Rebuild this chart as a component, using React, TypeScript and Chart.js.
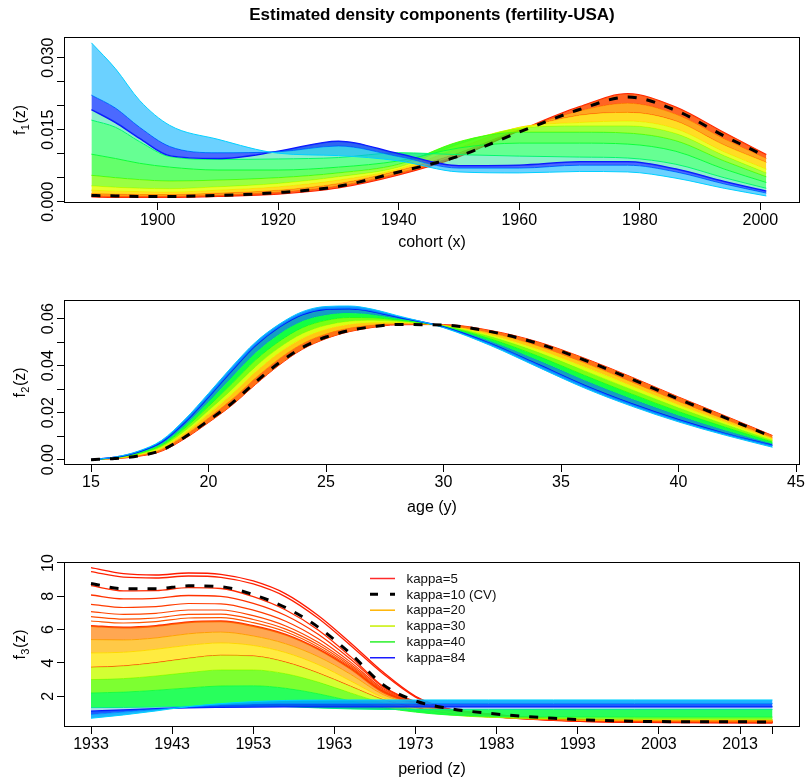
import React, { useEffect, useRef } from "react";
import { Chart, registerables } from "chart.js";

Chart.register(...registerables);

const FONT = '"Liberation Sans", Arial, Helvetica, sans-serif';

// ---------------- Panel 1 : cohort (x) ----------------
const P1_COHORT = [1889, 1893, 1897, 1902, 1910, 1920, 1930, 1940, 1950, 1960, 1970, 1978, 1986, 1994, 2001];
const P1_RED = [0.0010, 0.0009, 0.0009, 0.0009, 0.0011, 0.0016, 0.0029, 0.0056, 0.0094, 0.0148, 0.0198, 0.0225, 0.0197, 0.0144, 0.0098];
const P1_CV = [0.0013, 0.0012, 0.0011, 0.0011, 0.0013, 0.0019, 0.0032, 0.0062, 0.0095, 0.0145, 0.0192, 0.0218, 0.0190, 0.0137, 0.0094];
const P1_REDORANGE = [0.0013, 0.0012, 0.0012, 0.0012, 0.0014, 0.0020, 0.0033, 0.0060, 0.0098, 0.0149, 0.0189, 0.0205, 0.0182, 0.0131, 0.0090];
const P1_ORANGE = [0.0017, 0.0016, 0.0015, 0.0015, 0.0018, 0.0024, 0.0038, 0.0065, 0.0102, 0.0150, 0.0180, 0.0186, 0.0168, 0.0118, 0.0082];
const P1_YELLOW = [0.0024, 0.0022, 0.0021, 0.0020, 0.0024, 0.0031, 0.0045, 0.0068, 0.0112, 0.0155, 0.0165, 0.0168, 0.0152, 0.0104, 0.0068];
const P1_LIME = [0.0033, 0.0030, 0.0028, 0.0027, 0.0031, 0.0038, 0.0052, 0.0072, 0.0120, 0.0153, 0.0158, 0.0158, 0.0142, 0.0096, 0.0060];
const P1_GREEN1 = [0.0055, 0.0050, 0.0046, 0.0043, 0.0045, 0.0050, 0.0060, 0.0078, 0.0125, 0.0145, 0.0145, 0.0143, 0.0127, 0.0085, 0.0052];
const P1_GREEN2 = [0.0099, 0.0090, 0.0080, 0.0072, 0.0066, 0.0066, 0.0072, 0.0085, 0.0112, 0.0122, 0.0122, 0.0120, 0.0105, 0.0068, 0.0040];
const P1_GREEN3 = [0.0170, 0.0155, 0.0125, 0.0094, 0.0088, 0.0089, 0.0092, 0.0102, 0.0098, 0.0095, 0.0093, 0.0091, 0.0078, 0.0050, 0.0028];
const P1_BLUE = [0.0192, 0.0165, 0.0132, 0.0096, 0.0090, 0.0105, 0.0126, 0.0100, 0.0075, 0.0076, 0.0083, 0.0083, 0.0068, 0.0042, 0.0022];
const P1_AZURE = [0.0222, 0.0195, 0.0155, 0.0115, 0.0102, 0.0104, 0.0116, 0.0094, 0.0070, 0.0070, 0.0076, 0.0076, 0.0062, 0.0037, 0.0018];
const P1_CYAN = [0.0331, 0.0277, 0.0211, 0.0159, 0.0130, 0.0101, 0.0096, 0.0085, 0.0062, 0.0060, 0.0063, 0.0062, 0.0049, 0.0028, 0.0012];
const P1_X_TICKS = [1900, 1920, 1940, 1960, 1980, 2000];
const P1_Y_TICKS = [0, 0.005, 0.01, 0.015, 0.02, 0.025, 0.03];
const P1_Y_LABEL_VALUES = [0, 0.015, 0.03];
const P1_Y_LABELS = ["0.000", "0.015", "0.030"];

// ---------------- Panel 2 : age (y) ----------------
const P2_AGE = [15, 16, 17, 18, 19, 20, 21, 22, 23, 24, 25, 26, 27, 28, 30, 32, 34, 36, 38, 40, 42, 44];
const P2_RED = [0, 0.0004, 0.0014, 0.0036, 0.0090, 0.0158, 0.0232, 0.0320, 0.0402, 0.0470, 0.0515, 0.0545, 0.0563, 0.0574, 0.0575, 0.0550, 0.0502, 0.0432, 0.0352, 0.0267, 0.0186, 0.0103];
const P2_CV = [0, 0.0005, 0.0016, 0.0040, 0.0097, 0.0167, 0.0241, 0.0330, 0.0412, 0.0478, 0.0522, 0.0550, 0.0566, 0.0575, 0.0573, 0.0545, 0.0495, 0.0424, 0.0343, 0.0258, 0.0178, 0.0097];
const P2_ORANGE = [0, 0.0006, 0.0018, 0.0044, 0.0105, 0.0179, 0.0258, 0.0349, 0.0430, 0.0495, 0.0536, 0.0561, 0.0574, 0.0579, 0.0572, 0.0539, 0.0484, 0.0411, 0.0330, 0.0247, 0.0170, 0.0093];
const P2_YELLOW = [0, 0.0006, 0.0021, 0.0050, 0.0115, 0.0195, 0.0280, 0.0374, 0.0455, 0.0517, 0.0555, 0.0576, 0.0584, 0.0584, 0.0571, 0.0531, 0.0470, 0.0394, 0.0314, 0.0233, 0.0159, 0.0087];
const P2_LIME = [0, 0.0007, 0.0023, 0.0055, 0.0123, 0.0209, 0.0299, 0.0396, 0.0476, 0.0537, 0.0572, 0.0589, 0.0593, 0.0589, 0.0570, 0.0524, 0.0458, 0.0379, 0.0299, 0.0221, 0.0150, 0.0082];
const P2_GREEN1 = [0, 0.0008, 0.0026, 0.0061, 0.0135, 0.0227, 0.0324, 0.0424, 0.0503, 0.0562, 0.0593, 0.0605, 0.0604, 0.0595, 0.0568, 0.0514, 0.0442, 0.0359, 0.0280, 0.0205, 0.0138, 0.0075];
const P2_GREEN2 = [0, 0.0009, 0.0030, 0.0068, 0.0147, 0.0247, 0.0352, 0.0455, 0.0534, 0.0590, 0.0616, 0.0624, 0.0617, 0.0601, 0.0567, 0.0504, 0.0424, 0.0338, 0.0259, 0.0188, 0.0124, 0.0068];
const P2_BLUE = [0, 0.0010, 0.0033, 0.0075, 0.0160, 0.0267, 0.0380, 0.0486, 0.0564, 0.0618, 0.0640, 0.0642, 0.0630, 0.0608, 0.0565, 0.0494, 0.0406, 0.0316, 0.0238, 0.0170, 0.0111, 0.0061];
const P2_CYAN = [0, 0.0011, 0.0036, 0.0082, 0.0172, 0.0282, 0.0396, 0.0500, 0.0576, 0.0630, 0.0652, 0.0654, 0.0640, 0.0614, 0.0562, 0.0486, 0.0395, 0.0305, 0.0228, 0.0161, 0.0104, 0.0053];
const P2_X_TICKS = [15, 20, 25, 30, 35, 40, 45];
const P2_Y_TICKS = [0, 0.01, 0.02, 0.03, 0.04, 0.05, 0.06];
const P2_Y_LABEL_VALUES = [0, 0.02, 0.04, 0.06];
const P2_Y_LABELS = ["0.00", "0.02", "0.04", "0.06"];

// ---------------- Panel 3 : period (z) ----------------
const P3_PERIOD = [1933, 1937, 1941, 1945, 1949, 1953, 1957, 1961, 1965, 1969, 1973, 1977, 1982, 1990, 2000, 2017];
const P3_RED1 = [9.72, 9.36, 9.28, 9.40, 9.32, 8.92, 8.15, 6.85, 5.20, 3.45, 2.00, 1.25, 0.82, 0.55, 0.43, 0.40];
const P3_RED2 = [9.48, 9.15, 9.10, 9.22, 9.14, 8.74, 7.97, 6.68, 5.05, 3.35, 1.95, 1.23, 0.82, 0.56, 0.44, 0.41];
const P3_CV = [8.77, 8.45, 8.45, 8.63, 8.58, 8.10, 7.32, 6.15, 4.55, 2.70, 1.72, 1.28, 0.98, 0.68, 0.50, 0.46];
const P3_RED3 = [8.64, 8.33, 8.34, 8.52, 8.47, 7.98, 7.18, 5.98, 4.38, 2.60, 1.68, 1.25, 0.95, 0.66, 0.49, 0.45];
const P3_RED4 = [8.08, 7.85, 7.88, 8.05, 8.00, 7.58, 6.85, 5.72, 4.22, 2.55, 1.65, 1.22, 0.93, 0.65, 0.49, 0.45];
const P3_RED5 = [7.52, 7.33, 7.38, 7.57, 7.55, 7.17, 6.50, 5.45, 4.05, 2.45, 1.62, 1.20, 0.91, 0.64, 0.50, 0.46];
const P3_RED6 = [7.08, 6.92, 6.98, 7.18, 7.18, 6.84, 6.22, 5.24, 3.92, 2.38, 1.60, 1.19, 0.90, 0.63, 0.50, 0.47];
const P3_RED7 = [6.78, 6.63, 6.70, 6.92, 6.93, 6.61, 6.03, 5.09, 3.82, 2.33, 1.59, 1.18, 0.89, 0.63, 0.51, 0.48];
const P3_RED8 = [6.52, 6.40, 6.48, 6.70, 6.72, 6.42, 5.87, 4.96, 3.74, 2.29, 1.58, 1.18, 0.89, 0.63, 0.51, 0.48];
const P3_ORANGE1 = [6.22, 6.13, 6.22, 6.45, 6.50, 6.22, 5.70, 4.83, 3.65, 2.25, 1.57, 1.17, 0.88, 0.63, 0.52, 0.49];
const P3_ORANGE2 = [5.40, 5.38, 5.50, 5.75, 5.85, 5.62, 5.15, 4.38, 3.32, 2.10, 1.50, 1.10, 0.82, 0.60, 0.53, 0.51];
const P3_YELLOW = [4.60, 4.64, 4.82, 5.06, 5.20, 5.05, 4.62, 3.90, 2.92, 1.92, 1.40, 1.02, 0.78, 0.61, 0.56, 0.55];
const P3_LIME = [3.74, 3.82, 4.02, 4.28, 4.46, 4.42, 4.05, 3.40, 2.60, 1.80, 1.32, 0.97, 0.76, 0.63, 0.59, 0.58];
const P3_GREEN1 = [3.00, 3.06, 3.22, 3.42, 3.58, 3.58, 3.35, 2.85, 2.20, 1.60, 1.20, 0.90, 0.74, 0.66, 0.63, 0.62];
const P3_GREEN2 = [2.20, 2.25, 2.36, 2.50, 2.62, 2.63, 2.48, 2.15, 1.72, 1.32, 1.05, 0.88, 0.80, 0.76, 0.75, 0.75];
const P3_GREEN3 = [1.32, 1.33, 1.36, 1.40, 1.43, 1.43, 1.38, 1.30, 1.24, 1.21, 1.20, 1.20, 1.20, 1.21, 1.21, 1.21];
const P3_BLUE = [1.10, 1.18, 1.25, 1.31, 1.34, 1.36, 1.37, 1.37, 1.37, 1.37, 1.37, 1.37, 1.37, 1.37, 1.37, 1.37];
const P3_AZURE = [0.90, 1.05, 1.20, 1.36, 1.48, 1.54, 1.57, 1.57, 1.57, 1.57, 1.57, 1.57, 1.57, 1.57, 1.57, 1.57];
const P3_CYAN = [0.68, 0.88, 1.12, 1.38, 1.56, 1.68, 1.75, 1.77, 1.78, 1.78, 1.78, 1.78, 1.78, 1.78, 1.78, 1.78];
const P3_X_TICKS = [1933, 1943, 1953, 1963, 1973, 1983, 1993, 2003, 2013, 2017];
const P3_X_LABELED = [1933, 1943, 1953, 1963, 1973, 1983, 1993, 2003, 2013];
const P3_Y_TICKS = [2, 4, 6, 8, 10];
const P3_Y_LABELS = ["2", "4", "6", "8", "10"];

const LEGEND_LABELS = ["kappa=5", "kappa=10 (CV)", "kappa=20", "kappa=30", "kappa=40", "kappa=84"];
const LEGEND_COLORS = ["#ff2a2a", "#000000", "#ffb400", "#c8f000", "#2af02a", "#1a1aff"];

const TITLE = "Estimated density components (fertility-USA)";

// ---------------- helpers ----------------
type Curve = { values: number[]; line: string; width?: number; band?: string };

function lineDataset(xs: number[], ys: number[], extra: any) {
  return {
    data: xs.map((x, i) => ({ x, y: ys[i] })),
    pointRadius: 0,
    pointHoverRadius: 0,
    cubicInterpolationMode: "monotone",
    ...extra,
  };
}

function buildDatasets(xs: number[], curves: Curve[], dashed: number[]) {
  const n = curves.length;
  const ds: any[] = curves.map((c, i) =>
    lineDataset(xs, c.values, {
      borderColor: c.line,
      borderWidth: c.width ?? 1,
      backgroundColor: c.band ?? "rgba(0,0,0,0)",
      fill: c.band && i > 0 ? "-1" : false,
      order: n - i + 1,
    })
  );
  ds.push(
    lineDataset(xs, dashed, {
      borderColor: "#000",
      borderWidth: 3,
      borderDash: [9, 10],
      backgroundColor: "rgba(0,0,0,0)",
      fill: false,
      order: 0,
    })
  );
  return ds;
}

type Spec = {
  top: number;
  height: number;
  boxTop: number;
  boxBottom: number;
  xMin: number;
  xMax: number;
  yMin: number;
  yMax: number;
  xTicks: number[];
  xLabelOf: (v: number) => string;
  yTicks: number[];
  yLabelValues: number[];
  yLabels: string[];
  ySub: string;
  xTitle: string;
  xTitleY: number;
  title?: string;
  legend?: boolean;
  datasets: any[];
};

function decorPlugin(spec: Spec) {
  return {
    id: "decor",
    afterDraw(chart: any) {
      const { ctx, chartArea: a } = chart;
      const ys = chart.scales.y;
      const big = `16px ${FONT}`;
      ctx.save();
      ctx.setLineDash([]);
      ctx.strokeStyle = "#000";
      ctx.lineWidth = 1;
      ctx.strokeRect(a.left + 0.5, a.top + 0.5, a.right - a.left - 1, a.bottom - a.top - 1);

      ctx.fillStyle = "#000";
      ctx.font = big;
      ctx.textAlign = "center";
      ctx.textBaseline = "alphabetic";
      spec.yLabelValues.forEach((v, i) => {
        const y = ys.getPixelForValue(v);
        ctx.save();
        ctx.translate(53, y);
        ctx.rotate(-Math.PI / 2);
        ctx.fillText(spec.yLabels[i], 0, 0);
        ctx.restore();
      });

      // y title f_k(z)
      const cy = (a.top + a.bottom) / 2;
      ctx.save();
      ctx.translate(25, cy);
      ctx.rotate(-Math.PI / 2);
      const small = `11px ${FONT}`;
      ctx.font = big;
      const wf = ctx.measureText("f").width;
      const wz = ctx.measureText("(z)").width;
      ctx.font = small;
      const ws = ctx.measureText(spec.ySub).width;
      const total = wf + ws + wz + 1;
      let x0 = -total / 2;
      ctx.textAlign = "left";
      ctx.font = big;
      ctx.fillText("f", x0, 0);
      x0 += wf + 0.5;
      ctx.font = small;
      ctx.fillText(spec.ySub, x0, 4);
      x0 += ws + 0.5;
      ctx.font = big;
      ctx.fillText("(z)", x0, 0);
      ctx.restore();

      // x title
      ctx.font = big;
      ctx.textAlign = "center";
      ctx.textBaseline = "middle";
      ctx.fillText(spec.xTitle, (a.left + a.right) / 2, spec.xTitleY - spec.top);

      if (spec.title) {
        ctx.font = `bold 17px ${FONT}`;
        ctx.fillText(spec.title, (a.left + a.right) / 2, 15 - spec.top);
      }

      if (spec.legend) {
        ctx.font = `13.3px ${FONT}`;
        ctx.textAlign = "left";
        ctx.textBaseline = "middle";
        LEGEND_LABELS.forEach((lab, i) => {
          const y = 578.5 + i * 15.85 - spec.top;
          ctx.save();
          ctx.strokeStyle = LEGEND_COLORS[i];
          if (i === 1) {
            ctx.lineWidth = 3;
            ctx.setLineDash([8, 12]);
          } else {
            ctx.lineWidth = 1.5;
            ctx.setLineDash([]);
          }
          ctx.beginPath();
          ctx.moveTo(370, y);
          ctx.lineTo(395, y);
          ctx.stroke();
          ctx.restore();
          ctx.fillStyle = "#111";
          ctx.fillText(lab, 406.5, y + 0.5);
        });
      }
      ctx.restore();
    },
  };
}

function makeChart(canvas: HTMLCanvasElement, spec: Spec) {
  const tickFont = { family: FONT, size: 16 };
  return new Chart(canvas, {
    type: "line",
    data: { datasets: spec.datasets },
    options: {
      responsive: false,
      maintainAspectRatio: false,
      animation: false,
      devicePixelRatio: 1,
      events: [],
      layout: { padding: { left: 0, right: 6, top: spec.boxTop - spec.top, bottom: 0 } },
      plugins: { legend: { display: false }, tooltip: { enabled: false }, title: { display: false } },
      scales: {
        x: {
          type: "linear",
          min: spec.xMin,
          max: spec.xMax,
          afterBuildTicks: (s: any) => {
            s.ticks = spec.xTicks.map((v) => ({ value: v }));
          },
          afterFit: (s: any) => {
            s.height = spec.top + spec.height - spec.boxBottom;
            s.paddingLeft = 0;
            s.paddingRight = 0;
          },
          ticks: {
            autoSkip: false,
            maxRotation: 0,
            minRotation: 0,
            padding: 1,
            color: "#000",
            font: tickFont,
            callback: (v: any) => spec.xLabelOf(Number(v)),
          },
          grid: { drawOnChartArea: false, drawTicks: true, tickLength: 7, color: "#000", lineWidth: 1 },
          border: { display: false },
        },
        y: {
          type: "linear",
          min: spec.yMin,
          max: spec.yMax,
          afterBuildTicks: (s: any) => {
            s.ticks = spec.yTicks.map((v) => ({ value: v }));
          },
          afterFit: (s: any) => {
            s.width = 64;
            s.paddingTop = 0;
            s.paddingBottom = 0;
          },
          ticks: { autoSkip: false, color: "#000", font: tickFont, callback: () => "" },
          grid: { drawOnChartArea: false, drawTicks: true, tickLength: 7, color: "#000", lineWidth: 1 },
          border: { display: false },
        },
      },
    } as any,
    plugins: [decorPlugin(spec) as any],
  });
}

// ---------------- specs ----------------
function specs(): Spec[] {
  const p1Curves: Curve[] = [
    { values: P1_RED, line: "#ff1e00", width: 1.3 },
    { values: P1_REDORANGE, line: "#ff5a00", band: "rgba(255,75,0,0.86)" },
    { values: P1_ORANGE, line: "#ff5a00", band: "rgba(255,155,0,0.88)" },
    { values: P1_YELLOW, line: "#ffd800", band: "rgba(255,215,0,0.86)" },
    { values: P1_LIME, line: "#d8ff00", band: "rgba(225,255,0,0.82)" },
    { values: P1_GREEN1, line: "#70ff00", band: "rgba(120,255,0,0.74)" },
    { values: P1_GREEN2, line: "#10ff30", band: "rgba(20,255,30,0.66)" },
    { values: P1_GREEN3, line: "#00ff66", band: "rgba(0,255,75,0.6)" },
    { values: P1_BLUE, line: "#0a10ff", width: 1.5, band: "rgba(0,225,140,0.45)" },
    { values: P1_AZURE, line: "#0050ff", band: "rgba(15,55,255,0.75)" },
    { values: P1_CYAN, line: "#00d0ff", band: "rgba(0,175,255,0.58)" },
  ];
  const p2Curves: Curve[] = [
    { values: P2_RED, line: "#ff2000" },
    { values: P2_ORANGE, line: "#ff7a00", band: "rgba(255,100,0,0.92)" },
    { values: P2_YELLOW, line: "#ffd800", band: "rgba(255,195,0,0.92)" },
    { values: P2_LIME, line: "#c0ff00", band: "rgba(215,255,0,0.92)" },
    { values: P2_GREEN1, line: "#40ff00", band: "rgba(110,255,0,0.92)" },
    { values: P2_GREEN2, line: "#00ff50", band: "rgba(0,255,50,0.92)" },
    { values: P2_BLUE, line: "#0010ff", width: 1.5, band: "rgba(0,150,190,0.92)" },
    { values: P2_CYAN, line: "#00c8ff", band: "rgba(0,140,255,0.92)" },
  ];
  const p3Curves: Curve[] = [
    { values: P3_RED1, line: "#ff1a00", width: 1.3 },
    { values: P3_RED2, line: "#ff2200", width: 1.3 },
    { values: P3_RED3, line: "#ff2a00", width: 1.3 },
    { values: P3_RED4, line: "#ff3300", width: 1.3 },
    { values: P3_RED5, line: "#ff3c00", width: 1.2 },
    { values: P3_RED6, line: "#ff4500", width: 1.2 },
    { values: P3_RED7, line: "#ff4e00", width: 1.2 },
    { values: P3_RED8, line: "#ff5600", width: 1.2 },
    { values: P3_ORANGE1, line: "#ff3000", width: 2 },
    { values: P3_ORANGE2, line: "#ff9800", band: "rgba(255,125,0,0.68)" },
    { values: P3_YELLOW, line: "#ffd000", band: "rgba(255,180,0,0.72)" },
    { values: P3_LIME, line: "#ff3000", band: "rgba(255,228,0,0.75)" },
    { values: P3_GREEN1, line: "#a8ff00", band: "rgba(200,255,0,0.8)" },
    { values: P3_GREEN2, line: "#30ff30", band: "rgba(100,255,10,0.84)" },
    { values: P3_GREEN3, line: "#00ff80", band: "rgba(10,255,70,0.88)" },
    { values: P3_BLUE, line: "#0a14ff", width: 1.5, band: "rgba(0,150,210,0.35)" },
    { values: P3_AZURE, line: "#0078ff", band: "rgba(0,70,255,0.88)" },
    { values: P3_CYAN, line: "#00d2ff", band: "rgba(0,165,255,0.88)" },
  ];

  return [
    {
      top: 0,
      height: 262,
      boxTop: 37,
      boxBottom: 203,
      xMin: 1884.45,
      xMax: 2006.59,
      yMin: -0.000271,
      yMax: 0.034313,
      xTicks: P1_X_TICKS,
      xLabelOf: (v) => String(v),
      yTicks: P1_Y_TICKS,
      yLabelValues: P1_Y_LABEL_VALUES,
      yLabels: P1_Y_LABELS,
      ySub: "1",
      xTitle: "cohort (x)",
      xTitleY: 243,
      title: TITLE,
      datasets: buildDatasets(P1_COHORT, p1Curves, P1_CV),
    },
    {
      top: 262,
      height: 260,
      boxTop: 300,
      boxBottom: 465,
      xMin: 13.851,
      xMax: 45.17,
      yMin: -0.002255,
      yMax: 0.06796,
      xTicks: P2_X_TICKS,
      xLabelOf: (v) => String(v),
      yTicks: P2_Y_TICKS,
      yLabelValues: P2_Y_LABEL_VALUES,
      yLabels: P2_Y_LABELS,
      ySub: "2",
      xTitle: "age (y)",
      xTitleY: 508,
      datasets: buildDatasets(P2_AGE, p2Curves, P2_CV),
    },
    {
      top: 522,
      height: 259,
      boxTop: 562,
      boxBottom: 727,
      xMin: 1929.672,
      xMax: 2020.39,
      yMin: 0.156,
      yMax: 10.06,
      xTicks: P3_X_TICKS,
      xLabelOf: (v) => (P3_X_LABELED.indexOf(v) >= 0 ? String(v) : ""),
      yTicks: P3_Y_TICKS,
      yLabelValues: P3_Y_TICKS,
      yLabels: P3_Y_LABELS,
      ySub: "3",
      xTitle: "period (z)",
      xTitleY: 770,
      legend: true,
      datasets: buildDatasets(P3_PERIOD, p3Curves, P3_CV),
    },
  ];
}

export default function App() {
  const r1 = useRef<HTMLCanvasElement | null>(null);
  const r2 = useRef<HTMLCanvasElement | null>(null);
  const r3 = useRef<HTMLCanvasElement | null>(null);
  const all = specs();

  useEffect(() => {
    const refs = [r1, r2, r3];
    const sp = specs();
    const charts = refs.map((r, i) => (r.current ? makeChart(r.current, sp[i]) : null));
    return () => {
      charts.forEach((c) => c && c.destroy());
    };
  }, []);

  const refs = [r1, r2, r3];
  return (
    <div style={{ position: "absolute", left: 0, top: 0, width: 806, height: 781, background: "#fff" }}>
      {all.map((s, i) => (
        <canvas
          key={i}
          ref={refs[i]}
          width={806}
          height={s.height}
          style={{ position: "absolute", left: 0, top: s.top, width: 806, height: s.height }}
        />
      ))}
    </div>
  );
}
